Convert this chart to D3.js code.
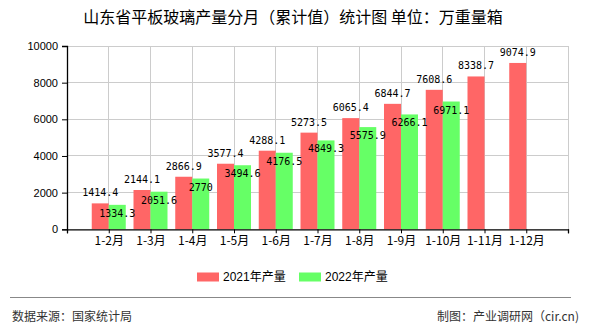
<!DOCTYPE html>
<html>
<head>
<meta charset="utf-8">
<script src="https://cdn.jsdelivr.net/npm/d3@7"></script>
<style>
  html, body { margin: 0; padding: 0; background: #fff; }
  svg { display: block; }
</style>
</head>
<body>
<svg id="chart" width="590" height="330"></svg>
<script>
const categories = ["1-2月","1-3月","1-4月","1-5月","1-6月","1-7月","1-8月","1-9月","1-10月","1-11月","1-12月"];
const values2021 = [1414.4, 2144.1, 2866.9, 3577.4, 4288.1, 5273.5, 6065.4, 6844.7, 7608.6, 8338.7, 9074.9];
const values2022 = [1334.3, 2051.6, 2770, 3494.6, 4176.5, 4849.3, 5575.9, 6266.1, 6971.1, null, null];
const seriesNames = ["2021年产量", "2022年产量"];
const yTicks = [0, 2000, 4000, 6000, 8000, 10000];
const titleText = "山东省平板玻璃产量分月（累计值）统计图 单位：万重量箱";
const sourceText = "数据来源：国家统计局";
const creditText = "制图：产业调研网（cir.cn)";

(function () {
const colors = ["#ff6666", "#66ff66"];
const svg = d3.select("#chart");
const pL = 67, pR = 568, pT = 46, pB = 229.3;

const domain = ["__s", ...categories, "__e"];
const x = d3.scalePoint().domain(domain).range([pL, pR]);
const y = d3.scaleLinear().domain([0, 10000]).range([pB, pT]);
const barW = 17;

// grid
const grid = svg.append("g");
grid.selectAll("line.h").data(yTicks.filter(d => d > 0)).enter().append("line")
  .attr("x1", pL).attr("x2", pR).attr("y1", d => y(d)).attr("y2", d => y(d))
  .attr("stroke", "#cccccc").attr("stroke-width", 1).attr("shape-rendering", "crispEdges");
grid.selectAll("line.v").data(domain.slice(1)).enter().append("line")
  .attr("x1", d => x(d)).attr("x2", d => x(d)).attr("y1", pT).attr("y2", pB)
  .attr("stroke", "#cccccc").attr("stroke-width", 1).attr("shape-rendering", "crispEdges");

// bars
const bars = svg.append("g");
bars.selectAll("rect.a").data(values2021).enter().append("rect")
  .attr("x", (d, i) => x(categories[i]) - barW).attr("width", barW)
  .attr("y", d => y(d)).attr("height", d => pB - y(d)).attr("fill", colors[0]);
bars.selectAll("rect.b").data(values2022.map((v, i) => ({v, i})).filter(d => d.v != null)).enter().append("rect")
  .attr("x", d => x(categories[d.i])).attr("width", barW)
  .attr("y", d => y(d.v)).attr("height", d => pB - y(d.v)).attr("fill", colors[1]);

// axes
const xAxis = d3.axisBottom(x).tickSize(4).tickFormat(d => d.startsWith("__") ? "" : d);
const gx = svg.append("g").attr("transform", `translate(0,${pB})`).call(xAxis);
gx.select(".domain").attr("stroke", "#000").attr("stroke-width", 1.3);
gx.selectAll(".tick line").attr("stroke", "#000");
gx.selectAll("text").attr("font-family", "Noto Sans CJK SC").attr("font-size", 12)
  .attr("fill", "#000").attr("dy", "0.55em").attr("y", 9);

const yAxis = d3.axisLeft(y).tickValues(yTicks).tickSize(5).tickPadding(4).tickFormat(d3.format("d"));
const gy = svg.append("g").attr("transform", `translate(${pL},0)`).call(yAxis);
gy.select(".domain").attr("stroke", "#000").attr("stroke-width", 1.3);
gy.selectAll(".tick line").attr("stroke", "#000");
gy.selectAll("text").attr("font-family", "Liberation Sans, Arial").attr("font-size", 11).attr("fill", "#000");

// value labels
const lab = svg.append("g").attr("font-family", "DejaVu Sans Mono, monospace").attr("font-size", 10)
  .attr("fill", "#000").attr("text-anchor", "middle");
lab.selectAll("text.a").data(values2021).enter().append("text")
  .attr("x", (d, i) => x(categories[i]) - barW / 2).attr("y", d => y(d) - 7)
  .text(d => String(d));
lab.selectAll("text.b").data(values2022.map((v, i) => ({v, i})).filter(d => d.v != null)).enter().append("text")
  .attr("x", d => x(categories[d.i]) + barW / 2).attr("y", d => y(d.v) + 12)
  .text(d => String(d.v));

// title
svg.append("text").attr("x", 293).attr("y", 23).attr("text-anchor", "middle")
  .attr("font-family", "Noto Sans CJK SC").attr("font-size", 16).attr("fill", "#000")
  .text(titleText);

// legend
const legX = [197, 299];
const leg = svg.append("g");
seriesNames.forEach((n, i) => {
  leg.append("rect").attr("x", legX[i]).attr("y", 272.5).attr("width", 22).attr("height", 9).attr("fill", colors[i]);
  leg.append("text").attr("x", legX[i] + 26).attr("y", 281).attr("font-family", "Liberation Sans, Noto Sans CJK SC")
    .attr("font-size", 12).attr("fill", "#000").text(n);
});

// footer
svg.append("line").attr("x1", 10).attr("x2", 571).attr("y1", 297.5).attr("y2", 297.5)
  .attr("stroke", "#888").attr("stroke-width", 1.2);
svg.append("text").attr("x", 12).attr("y", 321).attr("font-family", "Noto Sans CJK SC")
  .attr("font-size", 12).attr("fill", "#333").text(sourceText);
svg.append("text").attr("x", 579).attr("y", 321).attr("text-anchor", "end").attr("font-family", "Noto Sans CJK SC")
  .attr("font-size", 12).attr("fill", "#333").text(creditText);
})();
</script>
</body>
</html>
